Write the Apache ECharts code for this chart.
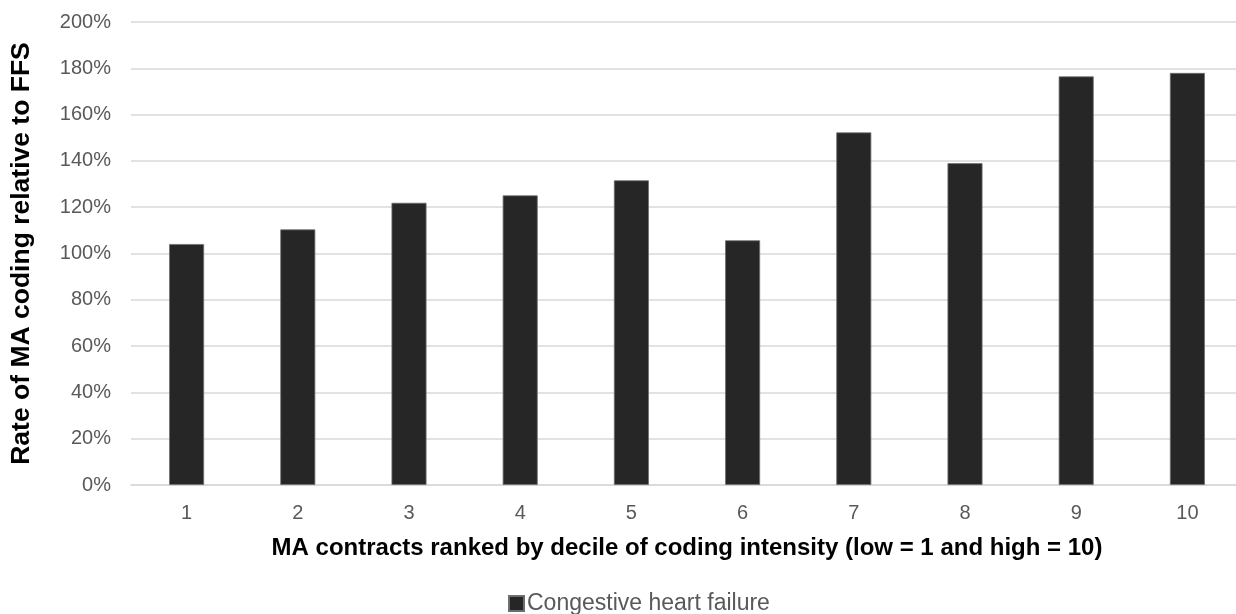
<!DOCTYPE html>
<html>
<head>
<meta charset="utf-8">
<script src="https://cdn.jsdelivr.net/npm/echarts@6/dist/echarts.min.js"></script>
<style>
  html, body { margin: 0; padding: 0; background: #fff; overflow: hidden; }
  /* the plot area runs a few pixels past the right edge of the window */
  #chart { width: 1243px; height: 614px; }
</style>
</head>
<body>
<div id="chart"></div>
<script>
// Deciles of coding intensity (1 = low, 10 = high)
const categories = ['1', '2', '3', '4', '5', '6', '7', '8', '9', '10'];
// Rate of MA coding relative to FFS, in percent
const chfRates = [104.1, 110.4, 121.9, 125.1, 131.6, 105.7, 152.3, 139.0, 176.5, 178.0];
const seriesName = 'Congestive heart failure';
const yTicks = { min: 0, max: 200, step: 20 };

const FONT = '"Liberation Sans", Arial, Helvetica, sans-serif';
const chart = echarts.init(document.getElementById('chart'), null, { renderer: 'canvas' });

chart.setOption({
  animation: false,
  backgroundColor: '#ffffff',
  grid: { left: 131, right: 0, top: 22, bottom: 129 },
  legend: {
    data: [{ name: seriesName, icon: 'rect' }],
    top: 587,
    left: 503,
    itemWidth: 15,
    itemHeight: 15,
    textStyle: { color: '#595959', fontSize: 23, fontFamily: FONT, padding: [0, 0, 0, -2] }
  },
  xAxis: {
    type: 'category',
    data: categories,
    name: 'MA contracts ranked by decile of coding intensity (low = 1 and high = 10)',
    nameLocation: 'middle',
    nameGap: 51,
    nameTextStyle: { color: '#000', fontSize: 24, fontWeight: 'bold', fontFamily: FONT },
    axisLine: { show: true, lineStyle: { color: '#d9d9d9', width: 1.5 } },
    axisTick: { show: false },
    axisLabel: { color: '#595959', fontSize: 20, fontFamily: FONT, margin: 18 }
  },
  yAxis: {
    type: 'value',
    min: yTicks.min,
    max: yTicks.max,
    interval: yTicks.step,
    name: 'Rate of MA coding relative to FFS',
    nameLocation: 'middle',
    nameRotate: 90,
    nameGap: 96,
    nameTextStyle: { color: '#000', fontSize: 26.5, fontWeight: 'bold', fontFamily: FONT },
    axisLine: { show: false },
    axisTick: { show: false },
    axisLabel: { color: '#595959', fontSize: 20, fontFamily: FONT, margin: 20, formatter: '{value}%' },
    splitLine: { lineStyle: { color: '#d9d9d9', width: 1.5 } }
  },
  series: [{
    name: seriesName,
    type: 'bar',
    data: chfRates,
    barWidth: 35,
    itemStyle: { color: '#262626', borderColor: '#6e6e6e', borderWidth: 0.8 }
  }]
});
</script>
</body>
</html>
